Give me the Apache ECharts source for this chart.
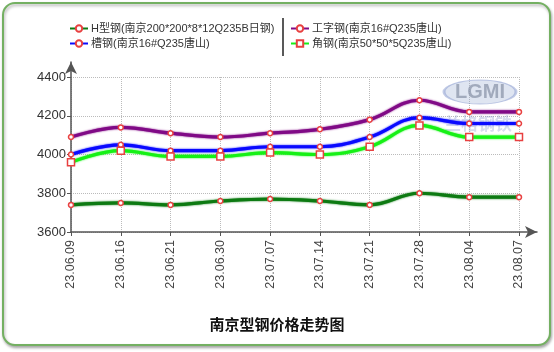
<!DOCTYPE html>
<html><head><meta charset="utf-8">
<script src="https://cdn.jsdelivr.net/npm/echarts@6/dist/echarts.min.js"></script>
<style>html,body{margin:0;padding:0;background:#fff}#c{width:554px;height:352px}</style>
</head><body><div id="c"></div>
<script>
var categories = ['23.06.09','23.06.16','23.06.21','23.06.30','23.07.07','23.07.14','23.07.21','23.07.28','23.08.04','23.08.07'];
var seriesNames = ['H型钢(南京200*200*8*12Q235B日钢)','槽钢(南京16#Q235唐山)','工字钢(南京16#Q235唐山)','角钢(南京50*50*5Q235唐山)'];
var hSteel = [3740,3750,3740,3760,3770,3760,3740,3800,3780,3780];
var channelSteel = [4000,4050,4020,4020,4040,4040,4090,4190,4160,4160];
var iBeam = [4090,4140,4110,4090,4110,4130,4180,4280,4220,4220];
var angleSteel = [3960,4020,3990,3990,4010,4000,4040,4150,4090,4090];
var yTicks = [3600,3800,4000,4200,4400];
var titleText = '南京型钢价格走势图';

var chart = echarts.init(document.getElementById('c'), null, {renderer:'canvas'});
function mk(name, data, color, square){
  return {
    name:name, type:'line', data:data, smooth:0.4, xAxisIndex:0, yAxisIndex:0,
    symbol: square ? 'rect' : 'circle', symbolSize: square ? 7 : 5,
    showAllSymbol:true,
    lineStyle:{color:color, width:3.2, shadowColor:color, shadowBlur:2},
    itemStyle:{color:'#fff', borderColor:'#e84040', borderWidth:1.5},
    z: 3
  };
}
var legendCommon = {orient:'vertical', itemWidth:18, itemHeight:8, itemGap:4,
  textStyle:{fontSize:11, color:'#333', fontFamily:'Liberation Sans, Noto Sans CJK SC', padding:[0,0,0,-2]}};
chart.setOption({
  animation:false,
  backgroundColor:'transparent',
  title:{text:titleText, left:'center', top:312, textStyle:{fontSize:15, fontWeight:'bold', color:'#111', fontFamily:'Noto Sans CJK SC'}},
  legend:[
    Object.assign({data:[seriesNames[0], seriesNames[1]], left:64, top:18}, legendCommon),
    Object.assign({data:[seriesNames[2], seriesNames[3]], left:285, top:18}, legendCommon)
  ],
  grid:[
    {left:71, right:35, top:77, bottom:120},
    {left:71, right:17, top:62, bottom:120}
  ],
  xAxis:[
    {type:'category', data:categories, boundaryGap:false, gridIndex:0,
     axisLine:{show:false},
     axisTick:{show:true, length:4, lineStyle:{color:'#555'}},
     axisLabel:{rotate:90, fontSize:12.5, color:'#444', margin:8, fontFamily:'Liberation Sans'},
     splitLine:{show:true, lineStyle:{color:'#bbb', type:[1,1], width:1}}},
    {type:'value', gridIndex:1, min:0, max:1,
     axisLine:{show:true, symbol:['none','arrow'], symbolSize:[9,12], lineStyle:{color:'#555', width:1.5}},
     axisTick:{show:false}, axisLabel:{show:false}, splitLine:{show:false}}
  ],
  yAxis:[
    {type:'value', min:yTicks[0], max:yTicks[yTicks.length-1], interval:200, gridIndex:0,
     axisLine:{show:false},
     axisTick:{show:true, length:4, lineStyle:{color:'#555'}},
     axisLabel:{fontSize:13, color:'#333', margin:5, fontFamily:'Liberation Sans', formatter:function(v){return String(v);}},
     splitLine:{show:true, lineStyle:{color:'#bbb', type:[1,1], width:1}}},
    {type:'value', gridIndex:1, min:0, max:1,
     axisLine:{show:true, symbol:['none','arrow'], symbolSize:[9,12], lineStyle:{color:'#555', width:1.5}},
     axisTick:{show:false}, axisLabel:{show:false}, splitLine:{show:false}}
  ],
  graphic:[
    {type:'rect', shape:{x:3, y:3, width:547, height:342, r:12}, z:-10,
     style:{fill:'#fff', stroke:'#74b062', lineWidth:2, shadowColor:'rgba(0,0,0,0.3)', shadowBlur:3, shadowOffsetX:1, shadowOffsetY:2}},
    {type:'line', shape:{x1:283, y1:18, x2:283, y2:56}, style:{stroke:'#222', lineWidth:1.5}, z:5},
    {type:'circle', shape:{cx:0, cy:0, r:12}, x:480, y:92, scaleX:3, scaleY:1,
     style:{fill:'rgba(150,170,210,0.3)', stroke:'rgba(120,140,200,0.45)', lineWidth:1}, z:1},
    {type:'text', x:480, y:92, style:{text:'LGMI', fill:'rgba(140,150,170,0.75)', font:'bold 20px Liberation Sans', align:'center', verticalAlign:'middle'}, z:1},
    {type:'text', x:478, y:124, style:{text:'兰格钢铁', fill:'rgba(120,140,200,0.3)', font:'bold 17px Noto Sans CJK SC', align:'center', verticalAlign:'middle'}, z:1}
  ],
  series:[
    mk(seriesNames[0], hSteel, '#0d7a12', false),
    mk(seriesNames[1], channelSteel, '#0a0aff', false),
    mk(seriesNames[2], iBeam, '#800a86', false),
    mk(seriesNames[3], angleSteel, '#16f016', true)
  ]
});
</script></body></html>
